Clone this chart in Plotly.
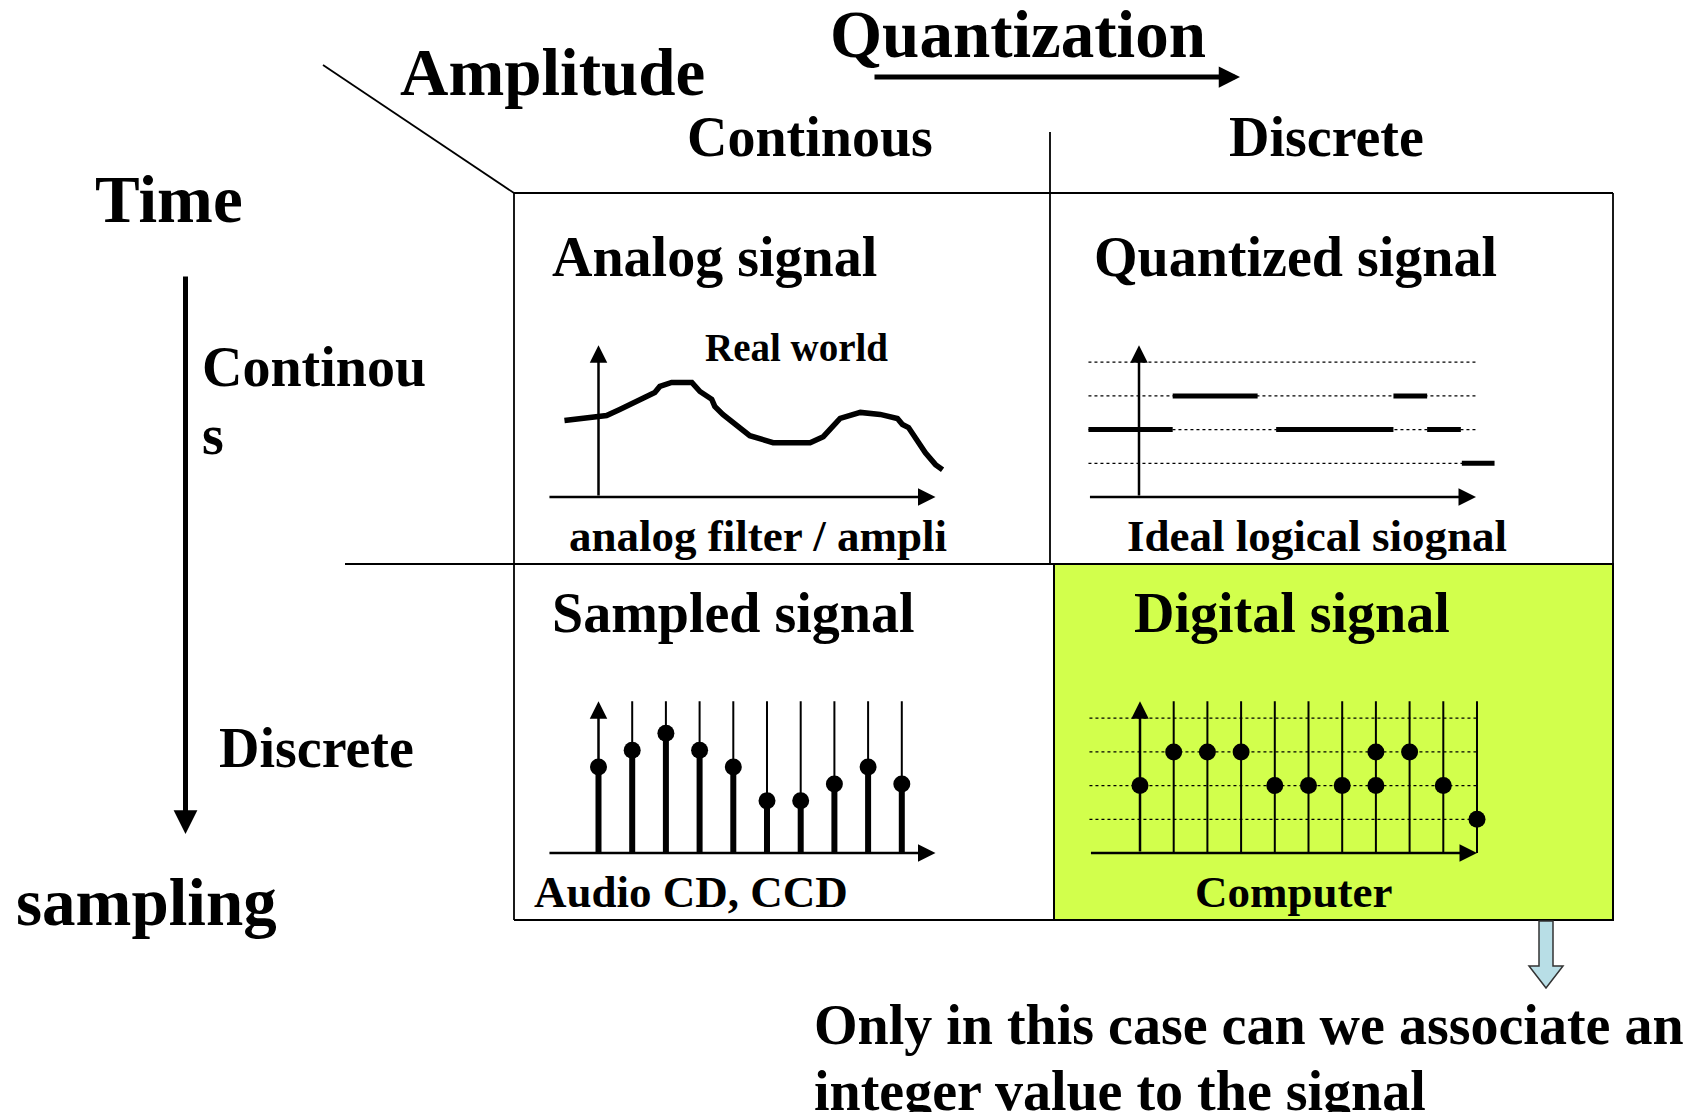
import plotly.graph_objects as go

W, H = 1691, 1120
OFF = 8        # the page body adds an 8 px margin round the figure
U = 33.7       # page pixels per unit inside the small signal panels
FONT = "Liberation Serif, Times New Roman, serif"
GREEN = "#D2FF4C"

# analog signal (real world), time vs amplitude
analog_t = [-1.01, -0.06, 0.24, 0.63, 1.13, 1.67, 1.82, 2.17, 2.77, 3.01, 3.36, 3.45, 3.69, 3.99, 4.26,
            4.49, 5.18, 6.28, 6.67, 6.96, 7.17, 7.77, 8.36, 8.87, 9.02, 9.20, 9.46, 9.70, 10.0, 10.21]
analog_amp = [2.27, 2.36, 2.42, 2.60, 2.84, 3.10, 3.28, 3.40, 3.40, 3.13, 2.90, 2.69, 2.45, 2.21, 2.00,
              1.82, 1.61, 1.61, 1.79, 2.09, 2.33, 2.51, 2.45, 2.33, 2.15, 2.06, 1.64, 1.31, 0.96, 0.81]

# quantized signal: levels and held segments
quant_levels = [1, 2, 3, 4]
quant_start = [-1.5, 1.0, 4.07, 7.55, 8.55, 9.58]
quant_end = [1.0, 3.52, 7.55, 8.55, 9.55, 10.55]
quant_value = [2, 3, 2, 3, 2, 1]

# sampled signal
sample_t = [0, 1, 2, 3, 4, 5, 6, 7, 8, 9]
sample_amp = [2.55, 3.05, 3.55, 3.05, 2.55, 1.55, 1.55, 2.05, 2.55, 2.05]

# digital signal
digital_lines = [1, 2, 3, 4, 5, 6, 7, 8, 9, 10]
digital_t = [0, 1, 2, 3, 4, 5, 6, 7, 7, 8, 9, 10]
digital_level = [2, 3, 3, 3, 2, 2, 2, 3, 2, 3, 2, 1]

TOP = 4.5      # height of the panel's vertical axis
X0, X1 = -1.5, 10.0

FW, FH = W - 2 * OFF, H - 2 * OFF

fig = go.Figure()
# page-pixel axes used for the frame and the labels
fig.add_trace(go.Scatter(x=[None], y=[None], xaxis="x", yaxis="y", showlegend=False))

panels = [("analog", 598.5, 497), ("quant", 1139, 497), ("sampled", 598.5, 853), ("digital", 1140, 853)]
axes = {}
for i, (name, ox, oy) in enumerate(panels, start=2):
    xa, ya = "xaxis%d" % i, "yaxis%d" % i
    fig.update_layout({
        xa: dict(domain=[(ox - 2 * U - OFF) / FW, (ox + 11 * U - OFF) / FW], range=[-2, 11],
                 visible=False, anchor="y%d" % i),
        ya: dict(domain=[1 - (oy + 0.5 * U - OFF) / FH, 1 - (oy - 4.8 * U - OFF) / FH], range=[-0.5, 4.8],
                 visible=False, anchor="x%d" % i),
    })
    axes[name] = ("x%d" % i, "y%d" % i)


def segs(xs0, xs1, ys0, ys1):
    xs, ys = [], []
    for a, b, c, d in zip(xs0, xs1, ys0, ys1):
        xs += [a, b, None]
        ys += [c, d, None]
    return xs, ys


def arrow(x0, y0, x1, y1, xr, yr, width=2.5, size=1.4):
    fig.add_annotation(x=x1, y=y1, ax=x0, ay=y0, xref=xr, yref=yr, axref=xr, ayref=yr, text="",
                       showarrow=True, arrowhead=2, arrowsize=size, arrowwidth=width, arrowcolor="black",
                       standoff=0)


def label(x, y, text, size, xanchor="center"):
    fig.add_annotation(x=x, y=y, xref="x", yref="y", text=text, showarrow=False, xanchor=xanchor,
                       yanchor="middle", font=dict(family=FONT, size=size, color="black", weight="bold"))


# analog panel
xr, yr = axes["analog"]
fig.add_trace(go.Scatter(x=analog_t, y=analog_amp, mode="lines", line=dict(color="black", width=5.5),
                         xaxis=xr, yaxis=yr, showlegend=False))
arrow(X0, 0, X1, 0, xr, yr)
arrow(0, 0, 0, TOP, xr, yr)

# quantized panel
xr, yr = axes["quant"]
xs, ys = segs([X0] * 4, [X1] * 4, quant_levels, quant_levels)
fig.add_trace(go.Scatter(x=xs, y=ys, mode="lines", line=dict(color="black", width=1.3, dash="dot"),
                         xaxis=xr, yaxis=yr, showlegend=False))
xs, ys = segs(quant_start, quant_end, quant_value, quant_value)
fig.add_trace(go.Scatter(x=xs, y=ys, mode="lines", line=dict(color="black", width=5),
                         xaxis=xr, yaxis=yr, showlegend=False))
arrow(X0, 0, X1, 0, xr, yr)
arrow(0, 0, 0, TOP, xr, yr)

# sampled panel
xr, yr = axes["sampled"]
xs, ys = segs(sample_t[1:], sample_t[1:], sample_amp[1:], [TOP] * 9)
fig.add_trace(go.Scatter(x=xs, y=ys, mode="lines", line=dict(color="black", width=2),
                         xaxis=xr, yaxis=yr, showlegend=False))
xs, ys = segs(sample_t, sample_t, [0] * 10, sample_amp)
fig.add_trace(go.Scatter(x=xs, y=ys, mode="lines", line=dict(color="black", width=6),
                         xaxis=xr, yaxis=yr, showlegend=False))
fig.add_trace(go.Scatter(x=sample_t, y=sample_amp, mode="markers", marker=dict(color="black", size=17),
                         xaxis=xr, yaxis=yr, showlegend=False))
arrow(X0, 0, X1, 0, xr, yr)
arrow(0, 0, 0, TOP, xr, yr)

# digital panel
xr, yr = axes["digital"]
xs, ys = segs([X0] * 4, [X1] * 4, quant_levels, quant_levels)
fig.add_trace(go.Scatter(x=xs, y=ys, mode="lines", line=dict(color="black", width=1.3, dash="dot"),
                         xaxis=xr, yaxis=yr, showlegend=False))
xs, ys = segs(digital_lines, digital_lines, [0] * 10, [TOP] * 10)
fig.add_trace(go.Scatter(x=xs, y=ys, mode="lines", line=dict(color="black", width=2),
                         xaxis=xr, yaxis=yr, showlegend=False))
fig.add_trace(go.Scatter(x=digital_t, y=digital_level, mode="markers", marker=dict(color="black", size=17),
                         xaxis=xr, yaxis=yr, showlegend=False))
arrow(X0, 0, X1, 0, xr, yr)
arrow(0, 0, 0, TOP, xr, yr)

# frame
fig.add_shape(type="rect", x0=1054, y0=564, x1=1613, y1=920, xref="x", yref="y", fillcolor=GREEN,
              line=dict(color="black", width=2), layer="below")
for x0, y0, x1, y1 in [(323, 65, 514, 193), (514, 193, 1613, 193), (1613, 193, 1613, 920),
                       (514, 193, 514, 920), (514, 920, 1613, 920), (345, 564, 1613, 564),
                       (1050, 132, 1050, 564)]:
    fig.add_shape(type="line", x0=x0, y0=y0, x1=x1, y1=y1, xref="x", yref="y",
                  line=dict(color="black", width=1.8))
fig.add_shape(type="path", xref="x", yref="y", fillcolor="#B8DEE6", line=dict(color="#333333", width=1.5),
              path="M1539,921 L1553,921 L1553,966 L1563,966 L1546,988 L1529,966 L1539,966 Z")

# big arrows
arrow(873, 77, 1240, 77, "x", "y", width=5, size=0.85)
arrow(185.5, 275, 185.5, 834, "x", "y", width=5, size=0.95)

# labels
label(552, 72, "Amplitude", 67)
label(1018, 34, "Quantization", 67)
label(810, 137, "Continous", 56)
label(1326, 137, "Discrete", 56)
label(169, 199, "Time", 67)
label(200, 367, "Continou", 56, "left")
label(200, 435, "s", 56, "left")
label(316, 748, "Discrete", 56)
label(146, 902, "sampling", 67)
label(714, 257, "Analog signal", 56)
label(1295, 257, "Quantized signal", 56)
label(733, 613, "Sampled signal", 56)
label(1292, 613, "Digital signal", 56)
label(796, 347, "Real world", 39)
label(758, 536, "analog filter / ampli", 45)
label(1317, 536, "Ideal logical siognal", 45)
label(691, 892, "Audio CD, CCD", 45)
label(1293, 892, "Computer", 45)
label(812, 1025, "Only in this case can we associate an", 56, "left")
label(812, 1091, "integer value to the signal", 56, "left")

fig.update_layout(
    width=FW, height=FH, margin=dict(l=0, r=0, t=0, b=0),
    paper_bgcolor="white", plot_bgcolor="rgba(0,0,0,0)", hovermode=False,
    xaxis=dict(domain=[0, 1], range=[OFF, W - OFF], visible=False),
    yaxis=dict(domain=[0, 1], range=[H - OFF, OFF], visible=False),
)

fig.write_html("out.html")
